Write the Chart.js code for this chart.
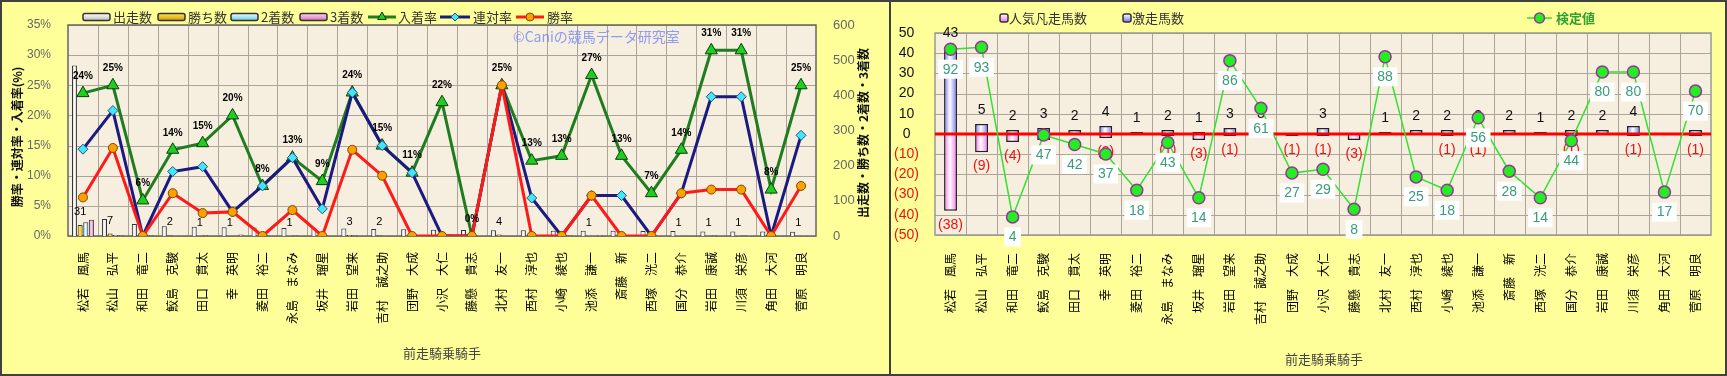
<!DOCTYPE html>
<html>
<head>
<meta charset="utf-8">
<script src="https://cdn.jsdelivr.net/npm/chart.js@4.4.1/dist/chart.umd.min.js"></script>
<style>
body{margin:0;background:#ffff99;}
#wrap{position:relative;width:1727px;height:376px;overflow:hidden;background:#ffff99;}
#cL{position:absolute;left:0;top:0;}
#cR{position:absolute;left:891px;top:0;}
#frame{position:absolute;left:0;top:0;width:1727px;height:376px;box-sizing:border-box;border:2px solid #404040;}
#mid{position:absolute;left:889px;top:0;width:2px;height:376px;background:#404040;}
</style>
</head>
<body>
<div id="wrap">
  <canvas id="cL" width="889" height="376"></canvas>
  <canvas id="cR" width="836" height="376"></canvas>
  <div id="frame"></div><div id="mid"></div>
</div>
<script>
const FJP = '"Noto Sans CJK JP","Noto Sans",sans-serif';
const FLS = '"Liberation Sans","DejaVu Sans",sans-serif';

// 前走騎乗騎手
const jockeys = ["松若　風馬","松山　弘平","和田　竜二","鮫島　克駿","田口　貫太","幸　英明","菱田　裕二","永島　まなみ","坂井　瑠星","岩田　望来","吉村　誠之助","団野　大成","小沢　大仁","藤懸　貴志","北村　友一","西村　淳也","小崎　綾也","池添　謙一","斎藤　新","西塚　洸二","国分　恭介","岩田　康誠","川須　栄彦","角田　大河","菅原　明良"];

// left chart: counts
const starts  = [485,48,34,28,26,25,24,23,22,21,20,19,18,17,16,16,15,15,15,14,14,13,13,13,12];
const wins    = [31,7,0,2,1,1,0,1,0,3,2,0,0,0,4,0,0,1,0,0,1,1,1,0,1];
const seconds = [39,3,0,1,2,0,2,2,1,2,1,2,0,0,0,1,0,0,1,0,0,2,2,0,1];
const thirds  = [46,2,2,1,1,4,0,0,1,0,0,0,4,0,0,1,2,3,1,1,1,1,1,1,1];
// left chart: rates (%)
const placeRate  = [23.7,25.0,5.9,14.3,15.4,20.0,8.3,13.0,9.1,23.8,15.0,10.5,22.2,0,25.0,12.5,13.3,26.7,13.3,7.1,14.3,30.8,30.8,7.7,25.0];
const rentaiRate = [14.4,20.8,0,10.7,11.5,4.0,8.3,13.0,4.5,23.8,15.0,10.5,0,0,25.0,6.3,0,6.7,6.7,0,7.1,23.1,23.1,0,16.7];
const winRate    = [6.4,14.6,0,7.1,3.8,4.0,0,4.3,0,14.3,10.0,0,0,0,25.0,0,0,6.7,0,0,7.1,7.7,7.7,0,8.3];

// right chart
const gekisou     = [43,5,2,3,2,4,1,2,1,3,3,0,3,0,1,2,2,2,2,1,2,2,4,0,2];
const ninkiBonsou = [-38,-9,-4,-3,0,-2,0,-1,-3,-1,0,-1,-1,-3,0,0,-1,-1,0,0,-1,0,-1,0,-1];
const kentei      = [92,93,4,47,42,37,18,43,14,86,61,27,29,8,88,25,18,56,28,14,44,80,80,17,70];

const PARCH = '#f6efdf';
const GRID = '#aaa499';

function barGrad(edge, light, slot, nSlots, catPct, barPct){
  return c => {
    const ch = c.chart, xs = ch.scales && ch.scales.x;
    if (c.type !== 'data' || !xs || !ch.chartArea) return edge;
    const cw = xs.width / jockeys.length, gw = cw*catPct, sw = gw/nSlots;
    const cx = xs.getPixelForValue(c.dataIndex) - gw/2 + (slot+0.5)*sw;
    const bw = sw*barPct;
    const g = ch.ctx.createLinearGradient(cx-bw/2, 0, cx+bw/2, 0);
    g.addColorStop(0, edge); g.addColorStop(0.45, light); g.addColorStop(1, edge);
    return g;
  };
}

// background + grid, positions taken from the chart's own scales
function bgPlugin(){
  return {
    id:'bg',
    beforeDatasetsDraw(chart){
      const {ctx, chartArea:a, scales} = chart;
      ctx.save();
      ctx.fillStyle = PARCH; ctx.fillRect(a.left, a.top, a.right-a.left, a.bottom-a.top);
      ctx.strokeStyle = GRID; ctx.lineWidth = 1;
      const xs = scales.x, ys = scales.y, cw = (a.right - a.left) / jockeys.length;
      ctx.beginPath();
      for (let i = 1; i < jockeys.length; i++) {
        const x = Math.round(a.left + i*cw) + 0.5;
        ctx.moveTo(x, a.top); ctx.lineTo(x, a.bottom);
      }
      for (let v = ys.min; v <= ys.max; v += (ys.max - ys.min) / (ys.ticks.length - 1 || 1)) {
        const y = Math.round(ys.getPixelForValue(v)) + 0.5;
        ctx.moveTo(a.left, y); ctx.lineTo(a.right, y);
      }
      ctx.stroke();
      ctx.restore();
    }
  };
}

function frame(ctx, a, color){
  ctx.save(); ctx.strokeStyle = color; ctx.lineWidth = 1.5;
  ctx.strokeRect(a.left, a.top, a.right-a.left, a.bottom-a.top); ctx.restore();
}

function barIcon(ctx, x, y, w, h, edge, light){
  const g = ctx.createLinearGradient(0, y-h/2, 0, y+h/2);
  g.addColorStop(0, light); g.addColorStop(1, edge);
  ctx.fillStyle = g; ctx.strokeStyle = '#333'; ctx.lineWidth = 1.5;
  ctx.beginPath();
  if (ctx.roundRect) ctx.roundRect(x, y-h/2, w, h, 2); else ctx.rect(x, y-h/2, w, h);
  ctx.fill(); ctx.stroke();
}

function lineIcon(ctx, x, y, w, color, style, r, fill, border){
  ctx.strokeStyle = color; ctx.lineWidth = 3;
  ctx.beginPath(); ctx.moveTo(x, y); ctx.lineTo(x+w, y); ctx.stroke();
  ctx.fillStyle = fill; ctx.strokeStyle = border; ctx.lineWidth = 1;
  Chart.helpers.drawPoint(ctx, {pointStyle:style, radius:r, borderWidth:1, rotation:0}, x+w/2, y);
}

function vText(ctx, text, x, y, font, color){
  ctx.save(); ctx.translate(x, y); ctx.rotate(-Math.PI/2);
  ctx.font = font; ctx.fillStyle = color; ctx.textAlign = 'center'; ctx.textBaseline = 'middle';
  ctx.fillText(text, 0, 0); ctx.restore();
}

// ---------------- left chart ----------------
const LB = {start:['#bdbdbd','#ffffff'], win:['#d99a00','#ffe45a'], sec:['#6ccbe8','#e6ffff'], thr:['#d870b8','#ffd6f2']};
const leftDeco = {
  id:'leftDeco',
  beforeDatasetsDraw(chart){
    const {ctx, chartArea:a} = chart;
    frame(ctx, a, '#666');
    ctx.save();
    ctx.font = '14px ' + FJP; ctx.fillStyle = 'rgba(105,125,255,0.75)';
    ctx.textBaseline = 'middle'; ctx.textAlign = 'left';
    ctx.fillText('©Caniの競馬データ研究室', 513, 37);
    ctx.restore();
  },
  afterDatasetsDraw(chart){
    const ctx = chart.ctx;
    ctx.save();
    ctx.textAlign = 'center'; ctx.textBaseline = 'middle'; ctx.fillStyle = '#000';
    ctx.font = '11px ' + FLS;
    chart.getDatasetMeta(1).data.forEach((el, i) => {
      if (wins[i] > 0) ctx.fillText(String(wins[i]), el.x, el.y - 13);
    });
    ctx.font = 'bold 10px ' + FLS;
    chart.getDatasetMeta(4).data.forEach((el, i) => {
      ctx.fillText(Math.round(placeRate[i]) + '%', el.x, el.y - 17);
    });
    ctx.restore();
  },
  afterDraw(chart){
    const ctx = chart.ctx;
    ctx.save();
    const y = 17;
    ctx.font = '13px ' + FJP; ctx.fillStyle = '#333'; ctx.textBaseline = 'middle'; ctx.textAlign = 'left';
    const items = [
      ['bar', 83, '出走数', LB.start], ['bar', 158, '勝ち数', LB.win], ['bar', 231, '2着数', LB.sec], ['bar', 300, '3着数', LB.thr]
    ];
    items.forEach(([t, x, label, c]) => {
      barIcon(ctx, x, y, 27, 7, c[0], c[1]);
      ctx.fillStyle = '#333'; ctx.fillText(label, x + 30, y);
    });
    lineIcon(ctx, 368, y, 28, '#1f7d1f', 'triangle', 5, '#1fcf1f', '#0b3d0b');
    ctx.fillStyle = '#333'; ctx.fillText('入着率', 398, y);
    lineIcon(ctx, 440, y, 30, '#1a1a80', 'rectRot', 4, '#40e8ff', '#305070');
    ctx.fillStyle = '#333'; ctx.fillText('連対率', 473, y);
    lineIcon(ctx, 516, y, 28, '#ff1a1a', 'circle', 4, '#ffa000', '#7a4a00');
    ctx.fillStyle = '#333'; ctx.fillText('勝率', 547, y);

    vText(ctx, '勝率・連対率・入着率(%)', 17, 137, 'bold 12px ' + FJP, '#111');
    vText(ctx, '出走数・勝ち数・2着数・3着数', 863, 133, 'bold 12px ' + FJP, '#111');
    ctx.font = '13px ' + FJP; ctx.fillStyle = '#444'; ctx.textAlign = 'center';
    ctx.fillText('前走騎乗騎手', 442, 353);
    ctx.restore();
  }
};

const barDs = (label, data, c, slot) => ({
  type:'bar', label, data, yAxisID:'y2', order:10,
  backgroundColor: barGrad(c[0], c[1], slot, 4, 0.75, 0.9),
  borderColor:'#333', borderWidth:1, categoryPercentage:0.75, barPercentage:0.9
});

new Chart(document.getElementById('cL'), {
  type:'bar',
  data:{
    labels: jockeys,
    datasets:[
      barDs('出走数', starts, LB.start, 0),
      barDs('勝ち数', wins, LB.win, 1),
      barDs('2着数', seconds, LB.sec, 2),
      barDs('3着数', thirds, LB.thr, 3),
      {type:'line', label:'入着率', data:placeRate, yAxisID:'y', order:3, borderColor:'#1f7d1f', borderWidth:3,
       pointStyle:'triangle', pointRadius:7, pointBackgroundColor:'#1fcf1f', pointBorderColor:'#0b3d0b', pointBorderWidth:1, tension:0},
      {type:'line', label:'連対率', data:rentaiRate, yAxisID:'y', order:2, borderColor:'#1a1a80', borderWidth:3,
       pointStyle:'rectRot', pointRadius:5, pointBackgroundColor:'#40e8ff', pointBorderColor:'#305070', pointBorderWidth:1, tension:0},
      {type:'line', label:'勝率', data:winRate, yAxisID:'y', order:1, borderColor:'#ff1a1a', borderWidth:3,
       pointStyle:'circle', pointRadius:4.5, pointBackgroundColor:'#ffa000', pointBorderColor:'#7a4a00', pointBorderWidth:1, tension:0}
    ]
  },
  options:{
    responsive:false, animation:false, devicePixelRatio:1,
    layout:{padding:{top:25, left:0, right:0, bottom:0}},
    plugins:{legend:{display:false}, tooltip:{enabled:false}},
    scales:{
      x:{
        grid:{display:false}, border:{display:false},
        ticks:{minRotation:90, maxRotation:90, autoSkip:false, padding:8, color:'#000', font:{family:FJP, size:12}},
        afterFit: s => { s.height = 140; }
      },
      y:{
        position:'left', min:0, max:35,
        grid:{display:false}, border:{display:false},
        ticks:{stepSize:5, callback: v => v + '%', color:'#666', padding:9, font:{family:FLS, size:12}},
        afterFit: s => { s.width = 68; }
      },
      y2:{
        position:'right', min:0, max:600,
        grid:{display:false}, border:{display:false},
        ticks:{stepSize:100, color:'#666', padding:9, font:{family:FLS, size:13}},
        afterFit: s => { s.width = 73; }
      }
    }
  },
  plugins:[bgPlugin(), leftDeco]
});

// ---------------- right chart ----------------
const RB = {geki:['#7676ff','#ffffff'], bon:['#ff70ee','#ffffff']};
const rightDeco = {
  id:'rightDeco',
  beforeDatasetsDraw(chart){ frame(chart.ctx, chart.chartArea, '#999'); },
  afterDatasetDraw(chart, args){
    const ctx = chart.ctx;
    if (args.index === 0 || args.index === 1) {
      const vals = args.index === 0 ? gekisou : ninkiBonsou;
      ctx.save(); ctx.font = '14px ' + FLS; ctx.textAlign = 'center'; ctx.textBaseline = 'middle';
      args.meta.data.forEach((el, i) => {
        const v = vals[i];
        if (v > 0) { ctx.fillStyle = '#111'; ctx.fillText(String(v), el.x, el.y - 14); }
        else if (v < 0) { ctx.fillStyle = '#ee1111'; ctx.fillText('(' + (-v) + ')', el.x, el.y + 14); }
      });
      ctx.restore();
    }
  },
  beforeDatasetDraw(chart, args){
    if (args.index !== 2) return;
    const {ctx, chartArea:a, scales} = chart;
    const y0 = scales.y.getPixelForValue(0);
    ctx.save(); ctx.strokeStyle = '#ff0000'; ctx.lineWidth = 3;
    ctx.beginPath(); ctx.moveTo(a.left, y0); ctx.lineTo(a.right, y0); ctx.stroke(); ctx.restore();
  },
  afterDatasetsDraw(chart){
    const ctx = chart.ctx;
    ctx.save(); ctx.font = '14px ' + FLS; ctx.textAlign = 'center'; ctx.textBaseline = 'middle';
    chart.getDatasetMeta(2).data.forEach((el, i) => {
      const t = String(kentei[i]);
      const w = ctx.measureText(t).width + 9;
      const cy = el.y + 20;
      ctx.fillStyle = '#ffffff'; ctx.fillRect(el.x - w/2, cy - 9.5, w, 19);
      ctx.fillStyle = '#3a9a7c'; ctx.fillText(t, el.x, cy + 0.5);
    });
    ctx.restore();
  },
  afterDraw(chart){
    const ctx = chart.ctx;
    ctx.save();
    const y = 18;
    ctx.font = '13px ' + FJP; ctx.textBaseline = 'middle'; ctx.textAlign = 'left';
    barIcon(ctx, 109, y, 8, 8, RB.bon[0], RB.bon[1]);
    ctx.fillStyle = '#333'; ctx.fillText('人気凡走馬数', 118, y);
    barIcon(ctx, 232, y, 8, 8, RB.geki[0], RB.geki[1]);
    ctx.fillStyle = '#333'; ctx.fillText('激走馬数', 241, y);
    ctx.strokeStyle = '#33dd33'; ctx.lineWidth = 1.5;
    ctx.beginPath(); ctx.moveTo(636, y); ctx.lineTo(661, y); ctx.stroke();
    ctx.fillStyle = '#22ee22'; ctx.strokeStyle = '#993399'; ctx.lineWidth = 1.5;
    Chart.helpers.drawPoint(ctx, {pointStyle:'circle', radius:5, borderWidth:1.5, rotation:0}, 648.5, y);
    ctx.font = 'bold 13px ' + FJP; ctx.fillStyle = '#2f9f2f'; ctx.fillText('検定値', 665, y);
    ctx.font = '13px ' + FJP; ctx.fillStyle = '#444'; ctx.textAlign = 'center';
    ctx.fillText('前走騎乗騎手', 433, 359);
    ctx.restore();
  }
};

new Chart(document.getElementById('cR'), {
  type:'bar',
  data:{
    labels: jockeys,
    datasets:[
      {type:'bar', label:'激走馬数', data:gekisou, order:10, backgroundColor: barGrad(RB.geki[0], RB.geki[1], 0, 1, 0.8, 0.52),
       borderColor:'#222', borderWidth:1.5, categoryPercentage:0.8, barPercentage:0.52},
      {type:'bar', label:'人気凡走馬数', data:ninkiBonsou, order:10, backgroundColor: barGrad(RB.bon[0], RB.bon[1], 0, 1, 0.8, 0.52),
       borderColor:'#222', borderWidth:1.5, categoryPercentage:0.8, barPercentage:0.52},
      {type:'line', label:'検定値', data:kentei, yAxisID:'y2', order:1, borderColor:'#33e033', borderWidth:1.5,
       pointRadius:6, pointBackgroundColor:'#22ee22', pointBorderColor:'#993399', pointBorderWidth:1.5, tension:0}
    ]
  },
  options:{
    responsive:false, animation:false, devicePixelRatio:1,
    layout:{padding:{top:33, left:0, right:16, bottom:0}},
    plugins:{legend:{display:false}, tooltip:{enabled:false}},
    scales:{
      x:{
        stacked:true,
        grid:{display:false}, border:{display:false},
        ticks:{minRotation:90, maxRotation:90, autoSkip:false, padding:10, color:'#000', font:{family:FJP, size:12}},
        afterFit: s => { s.height = 141; }
      },
      y:{
        stacked:true, min:-50, max:50,
        grid:{display:false}, border:{display:false},
        ticks:{stepSize:10, crossAlign:'center', padding:8, font:{family:FLS, size:14},
          color: c => (c.tick && c.tick.value < 0) ? '#ee1111' : '#111',
          callback: v => v < 0 ? '(' + (-v) + ')' : String(v)},
        afterFit: s => { s.width = 44; }
      },
      y2:{display:false, min:-5.5, max:100.5}
    }
  },
  plugins:[bgPlugin(), rightDeco]
});
</script>
</body>
</html>
